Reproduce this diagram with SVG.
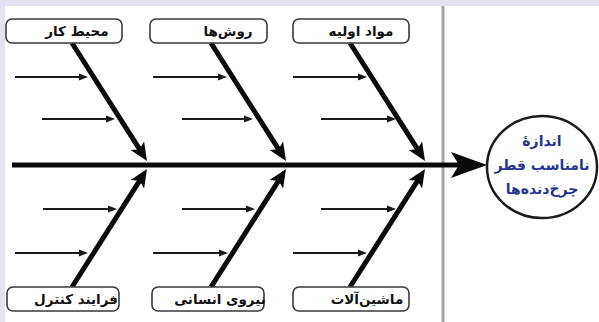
<svg xmlns="http://www.w3.org/2000/svg" width="599" height="322" viewBox="0 0 599 322">
  <style>
    .frame { fill: #e3e2f1; }
    .box { fill: #ffffff; stroke: #3a3a3a; stroke-width: 1.6; }
    .label { font-family: "DejaVu Sans", sans-serif; font-weight: bold; font-size: 13.5px; fill: #111; text-anchor: middle; }
    .effect { font-family: "DejaVu Sans", sans-serif; font-weight: bold; font-size: 14px; fill: #26348c; text-anchor: middle; }
    .bone { stroke: #0a0a0a; stroke-width: 5; fill: none; }
    .twig { stroke: #1a1a1a; stroke-width: 2; fill: none; }
  </style>
  <defs>
    <marker id="boneHead" markerUnits="userSpaceOnUse" markerWidth="30" markerHeight="30" refX="0" refY="0" orient="auto" overflow="visible">
      <path d="M11,0 L-7,-8 L-3,0 L-7,8 Z" fill="#0a0a0a"/>
    </marker>
    <marker id="twigHead" markerUnits="userSpaceOnUse" markerWidth="20" markerHeight="20" refX="0" refY="0" orient="auto" overflow="visible">
      <path d="M4,0 L-5,-3.5 L-5,3.5 Z" fill="#1a1a1a"/>
    </marker>
  </defs>

  <!-- page background and frame -->
  <rect x="0" y="0" width="599" height="322" fill="#ffffff"/>
  <rect class="frame" x="0" y="0" width="599" height="6"/>
  <rect class="frame" x="0" y="0" width="5" height="322"/>
  <line x1="443" y1="6" x2="443" y2="322" stroke="#a4a4a4" stroke-width="3"/>

  <g id="connectors">
    <!-- spine -->
    <line x1="12" y1="165" x2="462" y2="165" stroke="#0a0a0a" stroke-width="5"/>
    <polygon points="487,165 451,152 459,165 451,178" fill="#0a0a0a"/>

    <!-- upper bones -->
    <line class="bone" x1="72" y1="43" x2="141.1" y2="151.7" marker-end="url(#boneHead)"/>
    <line class="bone" x1="211" y1="43" x2="280.1" y2="151.7" marker-end="url(#boneHead)"/>
    <line class="bone" x1="350" y1="43" x2="419.1" y2="151.7" marker-end="url(#boneHead)"/>

    <!-- lower bones -->
    <line class="bone" x1="72" y1="287" x2="141.1" y2="178.3" marker-end="url(#boneHead)"/>
    <line class="bone" x1="211" y1="287" x2="280.1" y2="178.3" marker-end="url(#boneHead)"/>
    <line class="bone" x1="350" y1="287" x2="419.1" y2="178.3" marker-end="url(#boneHead)"/>

    <!-- sub-causes, upper -->
    <line class="twig" x1="15" y1="77" x2="84" y2="77" marker-end="url(#twigHead)"/>
    <line class="twig" x1="42" y1="119" x2="111" y2="119" marker-end="url(#twigHead)"/>
    <line class="twig" x1="153" y1="77" x2="223" y2="77" marker-end="url(#twigHead)"/>
    <line class="twig" x1="182" y1="119" x2="249" y2="119" marker-end="url(#twigHead)"/>
    <line class="twig" x1="293" y1="77" x2="363" y2="77" marker-end="url(#twigHead)"/>
    <line class="twig" x1="321" y1="119" x2="392" y2="119" marker-end="url(#twigHead)"/>

    <!-- sub-causes, lower -->
    <line class="twig" x1="43" y1="209" x2="113" y2="209" marker-end="url(#twigHead)"/>
    <line class="twig" x1="15" y1="253" x2="84" y2="253" marker-end="url(#twigHead)"/>
    <line class="twig" x1="182" y1="209" x2="251" y2="209" marker-end="url(#twigHead)"/>
    <line class="twig" x1="153" y1="253" x2="224" y2="253" marker-end="url(#twigHead)"/>
    <line class="twig" x1="321" y1="209" x2="392" y2="209" marker-end="url(#twigHead)"/>
    <line class="twig" x1="293" y1="253" x2="363" y2="253" marker-end="url(#twigHead)"/>
  </g>

  <!-- cause categories, upper row -->
  <g id="cat-environment">
    <rect class="box" x="6" y="19" width="116" height="24" rx="6"/>
    <text class="label" x="77" y="36">محیط کار</text>
  </g>
  <g id="cat-methods">
    <rect class="box" x="150" y="19" width="117" height="24" rx="6"/>
    <text class="label" x="228" y="36">روش‌ها</text>
  </g>
  <g id="cat-materials">
    <rect class="box" x="293" y="19" width="116" height="24" rx="6"/>
    <text class="label" x="361" y="36">مواد اولیه</text>
  </g>

  <!-- cause categories, lower row -->
  <g id="cat-control">
    <rect class="box" x="7" y="287" width="112" height="24" rx="6"/>
    <text class="label" x="76" y="304">فرایند کنترل</text>
  </g>
  <g id="cat-people">
    <rect class="box" x="152" y="287" width="112" height="24" rx="6"/>
    <text class="label" x="220" y="304">نیروی انسانی</text>
  </g>
  <g id="cat-machines">
    <rect class="box" x="293" y="287" width="116" height="24" rx="6"/>
    <text class="label" x="367" y="304">ماشین‌آلات</text>
  </g>

  <!-- effect -->
  <g id="effect">
    <ellipse cx="542" cy="167" rx="55" ry="51" fill="#ffffff" stroke="#1a1a1a" stroke-width="2.5"/>
    <text class="effect" x="542" y="146" font-size="15.5">اندازهٔ</text>
    <text class="effect" x="542" y="170">نامناسب قطر</text>
    <text class="effect" x="542" y="194">چرخ‌دنده‌ها</text>
  </g>
</svg>
